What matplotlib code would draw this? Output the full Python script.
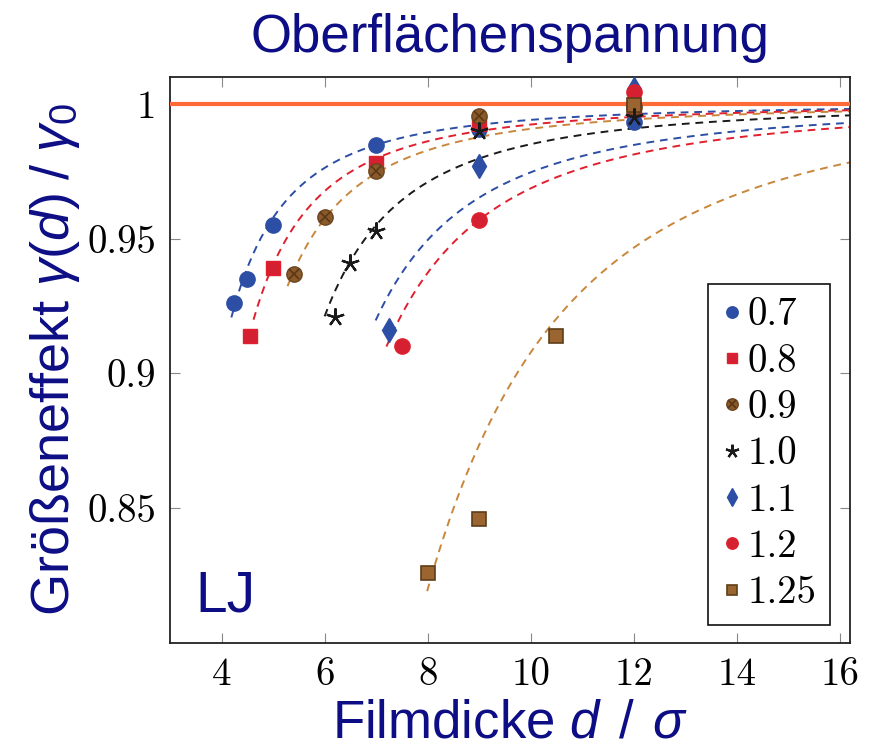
import matplotlib
matplotlib.use("Agg")
import matplotlib.pyplot as plt
import numpy as np
from matplotlib.legend_handler import HandlerTuple

plt.rcParams['font.family'] = ['Liberation Sans', 'DejaVu Sans']
plt.rcParams['mathtext.fontset'] = 'custom'
plt.rcParams['mathtext.rm'] = 'Liberation Sans'
plt.rcParams['mathtext.it'] = 'Liberation Sans:italic'

# simulation results: film thickness d/sigma vs. gamma(d)/gamma_0, one set per temperature
temps = ['0.7', '0.8', '0.9', '1.0', '1.1', '1.2', '1.25']

d_07 = [4.25, 4.5, 5.0, 7.0, 9.0, 12.0]
g_07 = [0.926, 0.935, 0.955, 0.9846, 0.9905, 0.9934]
d_08 = [4.55, 5.0, 7.0, 9.0, 12.0]
g_08 = [0.914, 0.939, 0.978, 0.9925, 0.998]
d_09 = [5.4, 6.0, 7.0, 9.0, 12.0]
g_09 = [0.937, 0.958, 0.975, 0.9956, 0.999]
d_10 = [6.2, 6.5, 7.0, 9.0, 12.0]
g_10 = [0.921, 0.941, 0.953, 0.990, 0.995]
d_11 = [7.25, 9.0, 12.0]
g_11 = [0.916, 0.977, 1.0055]
d_12 = [7.5, 9.0, 12.0]
g_12 = [0.910, 0.957, 1.0045]
d_125 = [8.0, 9.0, 10.5, 12.0]
g_125 = [0.826, 0.846, 0.914, 0.9995]

# fit: gamma/gamma_0 = 1 - a / (d - d0)^n
fit_a = [0.38, 0.465, 0.519, 0.751, 1.20, 1.462, 92.2]
fit_d0 = [2.0, 2.21, 2.51, 2.913, 3.125, 3.17, 0.0]
fit_n = [2, 2, 2, 2, 2, 2, 3]
fit_start = [4.19, 4.62, 5.28, 6.0, 6.99, 7.2, 7.99]

blue = '#2d4ea5'
red = '#e0202e'
navy = '#0d0d85'
curve_colors = [blue, red, '#c8873c', '#1a1a1a', blue, red, '#c8873c']

fig = plt.figure(figsize=(8.72, 7.54), dpi=100)
ax = fig.add_axes([0.195, 0.1472, 0.78, 0.7508])

# fit curves
for a, d0, n, x0, c in zip(fit_a, fit_d0, fit_n, fit_start, curve_colors):
    x = np.linspace(x0, 16.5, 300)
    ax.plot(x, 1 - a / (x - d0) ** n, color=c, lw=1.4, dashes=(4, 3), zorder=2)

ax.axhline(1.0, color='#ff6a35', lw=3.0, zorder=3)

h07, = ax.plot(d_07, g_07, 'o', ms=11, color=blue, mec=blue, ls='none', zorder=4)
h08, = ax.plot(d_08, g_08, 's', ms=10.5, color='#d42030', mec=red, ls='none', zorder=5)
h09a, = ax.plot(d_09, g_09, 'o', ms=11, color='#8a5a2a', mec='#6b4420', ls='none', zorder=6)
h09b, = ax.plot(d_09, g_09, 'x', ms=7, color='#5a3815', mew=1.2, ls='none', zorder=6)
h11, = ax.plot(d_11, g_11, 'd', ms=12, color=blue, mec=blue, ls='none', zorder=7)
h12, = ax.plot(d_12, g_12, 'o', ms=11, color='#d42030', mec=red, ls='none', zorder=8)
h125, = ax.plot(d_125, g_125, 's', ms=10.5, color='#9a6530', mec='#5e3d18', mew=1.2,
                ls='none', zorder=9)
h10, = ax.plot(d_10, g_10, marker=(5, 2, 0), ms=13, color='#1a1a1a', mew=1.6,
               ls='none', zorder=10)

ax.set_xlim(3, 16.2)
ax.set_ylim(0.8, 1.01)
ax.set_xticks([4, 6, 8, 10, 12, 14, 16])
ax.set_yticks([0.85, 0.9, 0.95, 1.0], labels=['0.85', '0.9', '0.95', '1'])
ax.tick_params(direction='in', top=True, right=True, length=7, width=0.8,
               color='#888888', labelsize=28, pad=10)
for lab in ax.get_xticklabels() + ax.get_yticklabels():
    lab.set_family('cmr10')
for sp in ax.spines.values():
    sp.set_linewidth(1.3)
    sp.set_color('#222222')

ax.set_title('Oberflächenspannung', fontsize=38, color=navy, pad=18)
ax.set_xlabel(r'Filmdicke $\mathit{d}\;\,/\;\,\sigma$', fontsize=38, color=navy, labelpad=4)
ax.set_ylabel(r'Größeneffekt $\gamma(\mathit{d})\;/\;\gamma_0$', fontsize=39, color=navy,
              labelpad=4)
ax.text(0.037, 0.055, 'LJ', transform=ax.transAxes, fontsize=41, color=navy)

leg = ax.legend([h07, h08, (h09a, h09b), h10, h11, h12, h125], temps,
                handler_map={tuple: HandlerTuple(ndivide=1)},
                loc='lower right', bbox_to_anchor=(0.97, 0.032), borderaxespad=0,
                fancybox=False, edgecolor='#111111', framealpha=1,
                prop={'family': 'cmr10', 'size': 28},
                handlelength=0.5, handletextpad=0.15, labelspacing=0.27,
                borderpad=0.35, markerscale=0.75)
leg.get_frame().set_linewidth(1.2)

fig.savefig('out.png', dpi=100)
